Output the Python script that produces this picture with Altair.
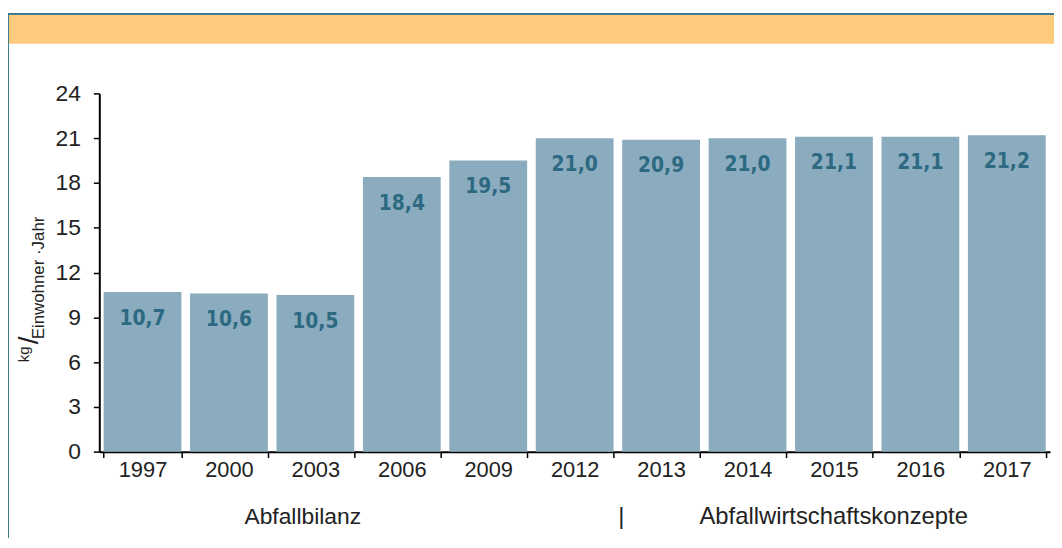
import altair as alt
import pandas as pd

years = ["1997", "2000", "2003", "2006", "2009", "2012", "2013", "2014", "2015", "2016", "2017"]
values = [10.7, 10.6, 10.5, 18.4, 19.5, 21.0, 20.9, 21.0, 21.1, 21.1, 21.2]
y_ticks = [0, 3, 6, 9, 12, 15, 18, 21, 24]
group_labels = ["Abfallbilanz", "|", "Abfallwirtschaftskonzepte"]

df = pd.DataFrame({
    "year": years,
    "value": values,
    "label": [f"{v:.1f}".replace(".", ",") for v in values],
})

W, H = 958, 361
BAR = "#8aacbe"
LAB = "#2d6a82"
FRAME = "#3f7a8e"
ORANGE = "#fdca7e"
TXT = "#222222"
FONT = "Liberation Sans"
BOLDFONT = "'DejaVu Sans Condensed', 'Roboto Condensed', Roboto, sans-serif"

x_enc = alt.X("year:N", sort=years, title=None,
              scale=alt.Scale(paddingInner=0.1, paddingOuter=0.05),
              axis=alt.Axis(labelAngle=0, labelFontSize=22, labelFont=FONT,
                            labelColor=TXT, labelPadding=2,
                            tickBand="extent", tickSize=6, tickColor="black",
                            tickWidth=1.5, domainColor="black", domainWidth=2))
y_enc = alt.Y("value:Q", title=None,
              scale=alt.Scale(domain=[0, 24], nice=False),
              axis=alt.Axis(values=y_ticks, labelFontSize=23, labelFont=FONT,
                            labelColor=TXT, labelPadding=13, grid=False,
                            tickSize=6, tickColor="black", tickWidth=1.5,
                            domainColor="black", domainWidth=2))

base = alt.Chart(df)
bars = base.mark_bar(color=BAR).encode(x=x_enc, y=y_enc)
labels = base.mark_text(font=BOLDFONT, fontWeight="bold",
                        fontSize=21, color=LAB, baseline="middle", dy=27).encode(
    x=alt.X("year:N", sort=years), y="value:Q", text="label:N")

one = pd.DataFrame({"k": [0]})
deco = alt.Chart(one)
orange = deco.mark_rect(color=ORANGE).encode(
    x=alt.value(-91), x2=alt.value(W + 4), y=alt.value(-79), y2=alt.value(-50))
top_line = deco.mark_rect(color=FRAME).encode(
    x=alt.value(-93), x2=alt.value(W + 4), y=alt.value(-81), y2=alt.value(-79))
left_line = deco.mark_rect(color=FRAME).encode(
    x=alt.value(-93), x2=alt.value(-91), y=alt.value(-81), y2=alt.value(H + 87))


def text_at(t, px, py, fs, angle=0):
    return alt.Chart(pd.DataFrame({"t": [t]})).mark_text(
        font=FONT, fontSize=fs, color=TXT, angle=angle,
        baseline="middle", align="center").encode(
        x=alt.value(px), y=alt.value(py), text="t:N")


groups = [
    text_at(group_labels[0], 205, 427, 23),
    text_at(group_labels[1], 526, 427, 24),
    text_at(group_labels[2], 740, 427, 24),
]
ytitle = [
    text_at("kg", -76, 263, 15, 270),
    text_at("/", -70, 249, 28, 270),
    text_at("Einwohner \u00b7Jahr", -61, 186, 17, 270),
]

chart = alt.layer(orange, top_line, left_line, bars, labels, *groups, *ytitle).properties(
    width=W, height=H,
    autosize=alt.AutoSizeParams(type="none"),
    padding={"left": 92, "top": 84, "right": 4, "bottom": 87},
    background="white",
).configure_view(stroke=None)

chart.save("out.html", embed_options={"renderer": "svg", "actions": False})
